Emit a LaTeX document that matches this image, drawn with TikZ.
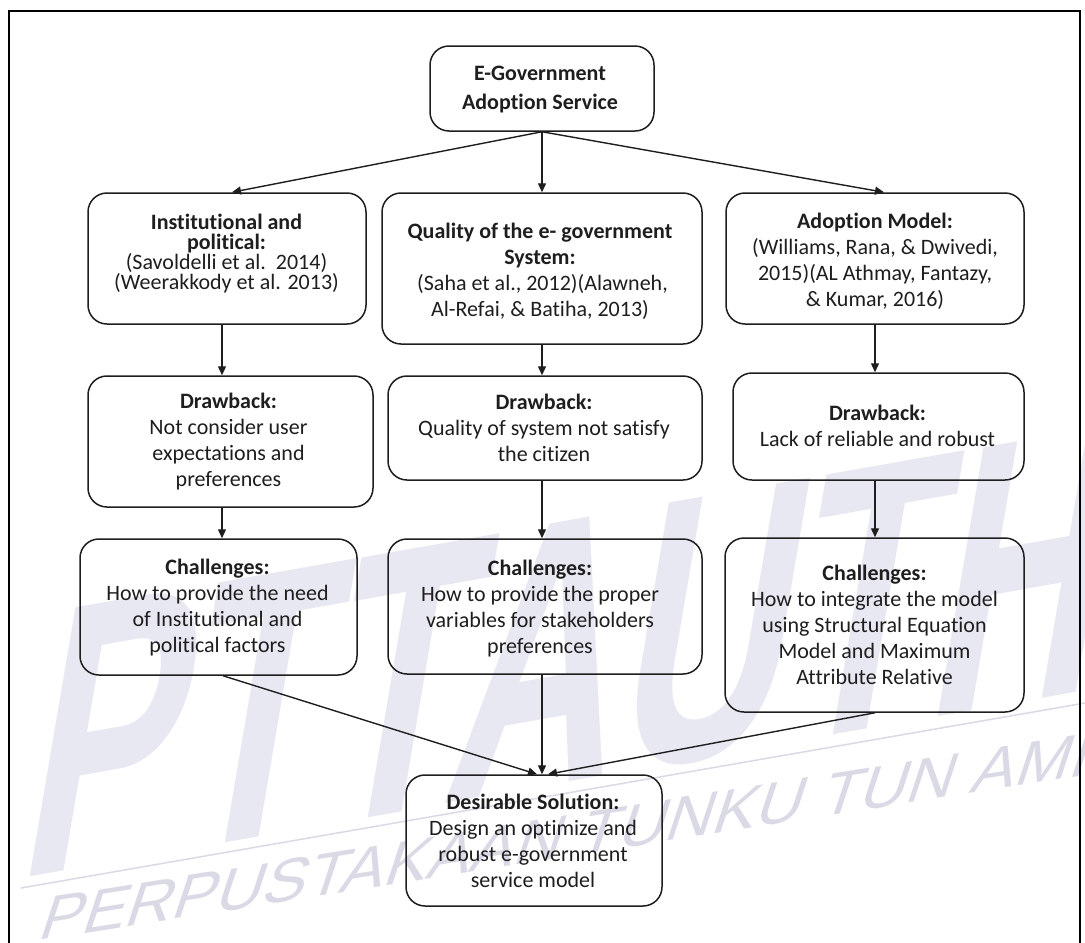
\documentclass[tikz,border=0pt]{standalone}
\usepackage{fontspec}
\usepackage{graphicx}
\setmainfont{Carlito}[Ligatures={TeX,NoCommon}]
\newfontfamily\wmfont{Liberation Sans}
\usetikzlibrary{arrows.meta,calc}

\definecolor{wmbig}{RGB}{232,232,243}
\definecolor{wmsmall}{RGB}{218,218,230}
\definecolor{ink}{RGB}{30,30,30}

\begin{document}
\begin{tikzpicture}[x=1pt,y=-1pt,
  box/.style={draw=ink, line width=1.5pt, rounded corners=19pt, inner sep=0pt},
  txt/.style={align=center, inner sep=0pt, text=ink,
              font=\fontsize{22}{26}\selectfont},
  arr/.style={draw=ink, line width=1.4pt, -{Triangle[length=9pt,width=8pt]}}]

\useasboundingbox (0,0) rectangle (1085,943);
\fill[white] (0,0) rectangle (1085,943);

% library watermark behind the chart
\begin{scope}
  \clip (0,0) rectangle (1085,943);
  \node[anchor=base west, inner sep=0pt, text=wmbig,
        cm={0.6,0.106,0.17,1,(0,0)},
        font=\wmfont\bfseries\fontsize{391}{391}\selectfont] (wmA) at (14,880)
        {PTTAUTHM};
  \draw[wmsmall, line width=1.5pt] (21,888) -- (1085,703);
  \node[anchor=base west, inner sep=0pt, text=wmsmall,
        cm={1.03,0.163,0.33,1,(0,0)},
        font=\wmfont\fontsize{63}{63}\selectfont] (wmB) at (36,941)
        {PERPUSTAKAAN TUNKU TUN AMINAH};
\end{scope}

% outer frame
\draw[line width=2pt, black] (9,943) -- (9,11) -- (1080,11) -- (1080,943);

% boxes
\node[box, minimum width=224pt, minimum height=85pt]  (top) at (542,88.5) {};
\node[box, minimum width=278pt, minimum height=131pt] (r1L) at (227,258.5) {};
\node[box, minimum width=320pt, minimum height=151pt] (r1M) at (542,268.5) {};
\node[box, minimum width=298pt, minimum height=131pt] (r1R) at (875,258.5) {};
\node[box, minimum width=285pt, minimum height=131pt] (r2L) at (230.5,441.5) {};
\node[box, minimum width=314pt, minimum height=104pt] (r2M) at (545,428) {};
\node[box, minimum width=291pt, minimum height=107pt] (r2R) at (878.5,426.5) {};
\node[box, minimum width=277pt, minimum height=136pt] (r3L) at (218.5,607) {};
\node[box, minimum width=314pt, minimum height=135pt] (r3M) at (545,606.5) {};
\node[box, minimum width=299pt, minimum height=174pt] (r3R) at (874.5,625) {};
\node[box, minimum width=256pt, minimum height=131pt] (bot) at (534,840.5) {};

% texts
\node[txt, font=\fontsize{22}{29}\selectfont] (ttop) at (540,89.5)
  {\textbf{E-Government}\\\textbf{Adoption Service}};
\node[txt, font=\fontsize{22}{20}\selectfont] (t1L) at (226.5,254)
  {\textbf{Institutional and}\\\textbf{political:}\\(Savoldelli et al.\ \ 2014)\\(Weerakkody et al. 2013)};
\node[txt] (t1M) at (540,271)
  {\textbf{Quality of the e- government}\\\textbf{System:}\\\ (Saha et al., 2012)(Alawneh,\\Al-Refai, \& Batiha, 2013)};
\node[txt] (t1R) at (875,261)
  {\textbf{Adoption Model:}\\(Williams, Rana, \& Dwivedi,\\2015)(AL Athmay, Fantazy,\\\& Kumar, 2016)};
\node[txt] (t2L) at (228.5,441.5)
  {\textbf{Drawback:}\\Not consider user\\expectations and\\preferences};
\node[txt] (t2M) at (544,428.3)
  {\textbf{Drawback:}\\Quality of system not satisfy\\the citizen};
\node[txt] (t2R) at (877.5,426)
  {\textbf{Drawback:}\\Lack of reliable and robust};
\node[txt] (t3L) at (217.5,608)
  {\textbf{Challenges:}\\How to provide the need\\of Institutional and\\political factors};
\node[txt] (t3M) at (540,608.3)
  {\textbf{Challenges:}\\How to provide the proper\\variables for stakeholders\\preferences};
\node[txt] (t3R) at (874.5,625)
  {\textbf{Challenges:}\\How to integrate the model\\using Structural Equation\\Model and Maximum\\Attribute Relative};
\node[txt] (tbot) at (533,841)
  {\textbf{Desirable Solution:}\\Design an optimize and\\robust e-government\\service model};

% arrow columns
\coordinate (xTL) at (232,0);
\coordinate (xTR) at (884,0);
\coordinate (xL)  at (222,0);
\coordinate (xM)  at (542,0);
\coordinate (xR)  at (875,0);
\coordinate (xBL) at (223,0);
\coordinate (xBLe) at (537,0);
\coordinate (xBRe) at (548,0);

% connectors
\draw[arr] (top.south) -- (r1L.north -| xTL);
\draw[arr] (top.south) -- (r1M.north -| xM);
\draw[arr] (top.south) -- (r1R.north -| xTR);
\draw[arr] (r1L.south -| xL) -- (r2L.north -| xL);
\draw[arr] (r1M.south -| xM) -- (r2M.north -| xM);
\draw[arr] (r1R.south -| xR) -- (r2R.north -| xR);
\draw[arr] (r2L.south -| xL) -- (r3L.north -| xL);
\draw[arr] (r2M.south -| xM) -- (r3M.north -| xM);
\draw[arr] (r2R.south -| xR) -- (r3R.north -| xR);
\draw[arr] (r3L.south -| xBL) -- (bot.north -| xBLe);
\draw[arr] (r3M.south -| xM) -- (bot.north -| xM);
\draw[arr] (r3R.south -| xR) -- (bot.north -| xBRe);

\end{tikzpicture}
\end{document}
